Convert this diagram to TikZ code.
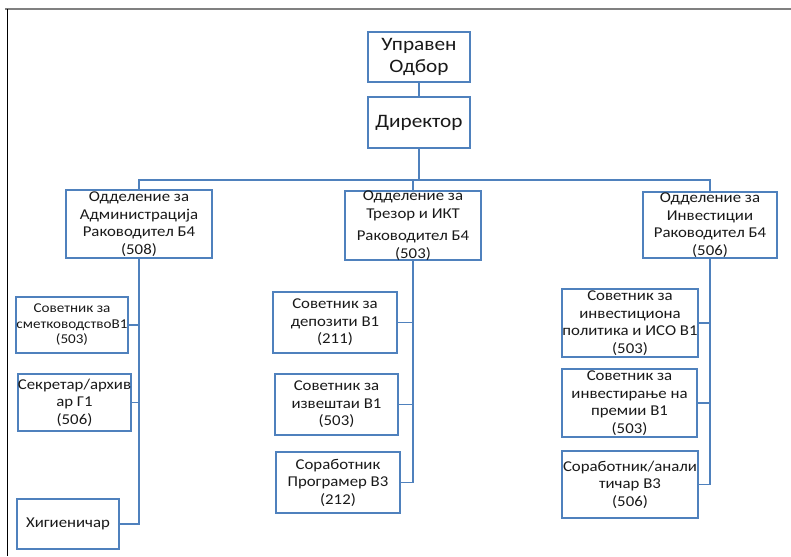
\documentclass[tikz,border=0pt]{standalone}
\usepackage{fontspec}
\setmainfont[FakeStretch=1.12]{Carlito}
\definecolor{ofblue}{RGB}{79,129,189}
\begin{document}
\begin{tikzpicture}[x=1pt,y=-1pt,
  box/.style={draw=ofblue,line width=1.6pt,align=center,inner sep=0pt,text=black!90},
  big/.style={box,font=\fontsize{19}{22}\selectfont},
  mid/.style={box,font=\fontsize{15}{17.5}\selectfont},
  small/.style={box,font=\fontsize{13.5}{15.5}\selectfont},
  link/.style={draw=ofblue,line width=1.6pt}]
  \useasboundingbox (0,0) rectangle (791,556);
  \draw[black!50,line width=2pt] (5,9) -- (791,9);
  \draw[line width=1pt] (7,9) -- (7,556);
  \node[big,minimum width=102pt,minimum height=50pt] (board) at (419,57) {Управен\\Одбор};
  \node[big,minimum width=102pt,minimum height=51pt] (dir) at (419,122.5) {Директор};
  \node[mid,minimum width=146pt,minimum height=68pt] (adm) at (139,224)
    {Одделение за\\Администрација\\Раководител Б4\\(508)};
  \node[mid,minimum width=136pt,minimum height=67pt] (trez) at (413,225.5)
    {Одделение за\\Трезор и ИКТ\\[5pt]Раководител Б4\\(503)};
  \node[mid,minimum width=134pt,minimum height=66pt] (inv) at (710,225)
    {Одделение за\\Инвестиции\\Раководител Б4\\(506)};
  \node[small,minimum width=112pt,minimum height=56pt] (a1) at (72,325)
    {Советник за\\сметководствоВ1\\(503)};
  \node[mid,minimum width=113pt,minimum height=57pt] (a2) at (74.5,402.5)
    {Секретар/архив\\ар Г1\\(506)};
  \node[mid,minimum width=102pt,minimum height=50pt] (a3) at (68,524) {Хигиеничар};
  \node[mid,minimum width=124pt,minimum height=61pt] (t1) at (335,322.5)
    {Советник за\\депозити В1\\(211)};
  \node[mid,minimum width=123pt,minimum height=61pt] (t2) at (336.5,404.5)
    {Советник за\\извештаи В1\\(503)};
  \node[mid,minimum width=124pt,minimum height=61pt] (t3) at (338,482.5)
    {Соработник\\Програмер В3\\(212)};
  \node[mid,minimum width=136pt,minimum height=68pt] (i1) at (630,323)
    {Советник за\\инвестициона\\политика и ИСО В1\\(503)};
  \node[mid,minimum width=135pt,minimum height=68pt] (i2) at (629.5,403)
    {Советник за\\инвестирање на\\премии В1\\(503)};
  \node[mid,minimum width=136pt,minimum height=67pt] (i3) at (630,484.5)
    {Соработник/анали\\тичар В3\\(506)};
  \coordinate (bus) at (419,180);
  \draw[link] (board.south) -- (dir.north);
  \draw[link] (dir.south) -- (bus) -| (adm.north);
  \draw[link] (bus) -| (trez.north);
  \draw[link] (bus) -| (inv.north);
  \foreach \n in {a1,a2,a3}
    \draw[link] (adm.south) |- (\n.east);
  \foreach \n in {t1,t2,t3}
    \draw[link] (trez.south) |- (\n.east);
  \foreach \n in {i1,i2,i3}
    \draw[link] (inv.south) |- (\n.east);
\end{tikzpicture}
\end{document}
